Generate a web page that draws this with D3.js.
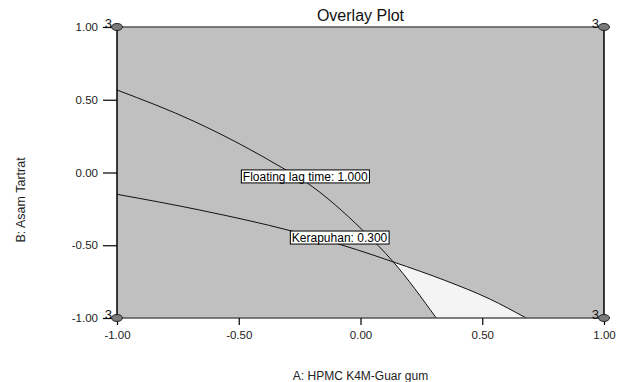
<!DOCTYPE html>
<html>
<head>
<meta charset="utf-8">
<script src="https://cdn.jsdelivr.net/npm/d3@7"></script>
<style>
  body { margin: 0; background: #fff; }
  svg { font-family: "Liberation Sans", Arial, sans-serif; }
</style>
</head>
<body>
<div id="chart"></div>
<script>
// contour (A, B in coded units)
const floatingLag = [
  [-1.00, 0.567], [-0.680, 0.349], [-0.488, 0.189], [-0.320, 0.031],
  [-0.225, -0.065], [0.008, -0.395], [0.135, -0.615], [0.311, -1.00]
];
const kerapuhan = [
  [-1.00, -0.150], [-0.660, -0.258], [-0.283, -0.402], [-0.016, -0.530],
  [0.135, -0.615], [0.352, -0.745], [0.529, -0.868], [0.680, -1.00]
];
const contourLabels = [
  { text: "Floating lag time: 1.000", x: -0.227, y: -0.027 },
  { text: "Kerapuhan: 0.300", x: -0.086, y: -0.447 }
];
const xTicks = [-1, -0.5, 0, 0.5, 1];
const yTicks = [-1, -0.5, 0, 0.5, 1];
const cornerPoints = [[-1, 1], [1, 1], [-1, -1], [1, -1]];
const cornerCount = "3";

const width = 626, height = 382;
const margin = { top: 27, right: 22, bottom: 64, left: 117 };

const svg = d3.select("#chart").append("svg")
  .attr("width", width).attr("height", height);

const x = d3.scaleLinear().domain([-1, 1]).range([margin.left, width - margin.right]);
const y = d3.scaleLinear().domain([-1, 1]).range([height - margin.bottom, margin.top]);
const fmt = d => d.toFixed(2);

// plot background
svg.append("rect")
  .attr("x", x(-1)).attr("y", y(1))
  .attr("width", x(1) - x(-1)).attr("height", y(-1) - y(1))
  .attr("fill", "#c0c0c0");

const curve = d3.line()
  .x(d => x(d[0])).y(d => y(d[1]))
  .curve(d3.curveMonotoneX);

// feasible region: below kerapuhan, right of floating lag time
const defs = svg.append("defs");
defs.append("clipPath").attr("id", "rightOfLag")
  .append("path")
  .attr("d", curve(floatingLag) + `L${x(1)},${y(-1)}L${x(1)},${y(1)}L${x(-1)},${y(1)}Z`);
svg.append("path")
  .datum(kerapuhan)
  .attr("clip-path", "url(#rightOfLag)")
  .attr("fill", "#f4f4f4")
  .attr("d", d3.area().x(d => x(d[0])).y0(y(-1)).y1(d => y(d[1])).curve(d3.curveMonotoneX));

[floatingLag, kerapuhan].forEach(s => {
  svg.append("path")
    .datum(s)
    .attr("fill", "none")
    .attr("stroke", "#111")
    .attr("stroke-width", 1)
    .attr("d", curve);
});

// frame
svg.append("line").attr("x1", x(-1)).attr("x2", x(1)).attr("y1", y(1)).attr("y2", y(1))
  .attr("stroke", "#555").attr("stroke-width", 1.5);
svg.append("line").attr("x1", x(-1)).attr("x2", x(1)).attr("y1", y(-1)).attr("y2", y(-1))
  .attr("stroke", "#555").attr("stroke-width", 1.5);
svg.append("line").attr("x1", x(1)).attr("x2", x(1)).attr("y1", y(1)).attr("y2", y(-1))
  .attr("stroke", "#000").attr("stroke-width", 1.5);

// axes
const xAxis = svg.append("g")
  .attr("transform", `translate(0,${y(-1)})`)
  .call(d3.axisBottom(x).tickValues(xTicks).tickFormat(fmt).tickSize(7).tickPadding(6));
const yAxis = svg.append("g")
  .attr("transform", `translate(${x(-1)},0)`)
  .call(d3.axisLeft(y).tickValues(yTicks).tickFormat(fmt).tickSize(14).tickPadding(5));
[xAxis, yAxis].forEach(g => {
  g.select(".domain").remove();
  g.selectAll("line").attr("stroke", "#000").attr("stroke-width", 1.2);
  g.selectAll("text").attr("font-size", 11.5).attr("fill", "#222")
    .attr("font-family", "Liberation Sans, Arial, sans-serif");
});
svg.append("line").attr("x1", x(-1)).attr("x2", x(-1)).attr("y1", y(1)).attr("y2", y(-1))
  .attr("stroke", "#000").attr("stroke-width", 1.5);

// contour labels
contourLabels.forEach(l => {
  const g = svg.append("g");
  const t = g.append("text")
    .attr("x", x(l.x)).attr("y", y(l.y))
    .attr("text-anchor", "middle").attr("dy", "0.36em")
    .attr("font-size", 12).attr("fill", "#000")
    .text(l.text);
  const bb = t.node().getBBox();
  g.insert("rect", "text")
    .attr("x", bb.x - 1.5).attr("y", y(l.y) - 6.5)
    .attr("width", bb.width + 3).attr("height", 13)
    .attr("fill", "#fff").attr("stroke", "#000").attr("stroke-width", 1);
});

// design points at corners
cornerPoints.forEach(p => {
  svg.append("ellipse")
    .attr("cx", x(p[0])).attr("cy", y(p[1]))
    .attr("rx", 5.5).attr("ry", 3.5)
    .attr("fill", "#7a7a7a").attr("stroke", "#222").attr("stroke-width", 1);
  svg.append("text")
    .attr("x", x(p[0]) - 5).attr("y", y(p[1]) + 1)
    .attr("text-anchor", "end")
    .attr("font-size", 13).attr("fill", "#111")
    .text(cornerCount);
});

// titles
svg.append("text")
  .attr("x", (x(-1) + x(1)) / 2).attr("y", 21)
  .attr("text-anchor", "middle").attr("font-size", 16).attr("fill", "#111")
  .text("Overlay Plot");
svg.append("text")
  .attr("x", (x(-1) + x(1)) / 2).attr("y", 380)
  .attr("text-anchor", "middle").attr("font-size", 12).attr("fill", "#222")
  .text("A: HPMC K4M-Guar gum");
svg.append("text")
  .attr("transform", `translate(25,200) rotate(-90)`)
  .attr("text-anchor", "middle").attr("font-size", 12.5).attr("fill", "#222")
  .text("B: Asam Tartrat");
</script>
</body>
</html>
